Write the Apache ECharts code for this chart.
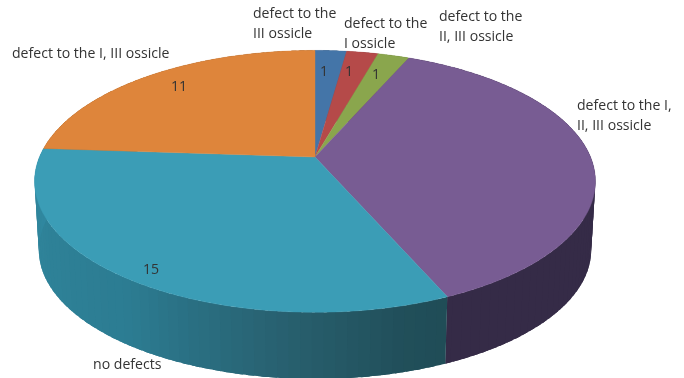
<!DOCTYPE html>
<html>
<head>
<meta charset="utf-8">
<style>html,body{margin:0;padding:0;background:#fff}#chart{width:684px;height:378px}</style>
<script src="https://cdn.jsdelivr.net/npm/echarts@6/dist/echarts.min.js"></script>
</head>
<body>
<div id="chart"></div>
<script>
// Ossicle defect counts, shown as a tilted 3D pie.
const categories = [
  'defect to the\nIII ossicle',
  'defect to the\nI ossicle',
  'defect to the\nII, III ossicle',
  'defect to the I,\nII, III ossicle',
  'no defects',
  'defect to the I, III ossicle'
];
const counts = [1, 1, 1, 17, 15, 11];
const showCount = [true, true, true, false, true, true];

const topColors = ['#4475a8', '#b54a49', '#8aa64d', '#785c93', '#3b9db6', '#de853b'];
const nameAnchors = [[253, 4], [344, 14], [439, 7], [577, 96], [93, 355], [12, 44]];
const countAnchors = [[324, 72], [349, 72], [376, 75], null, [151, 270], [179, 87]];

// Wall shade ramps by angle (degrees clockwise from the back of the disc).
const wallRamps = [
  [[0, '#2f5170']], [[0, '#7a3332']], [[0, '#5f7335']],
  [[0, '#352b47']],
  [[150, '#1e4a54'], [165, '#214f5a'], [185, '#28606f'], [215, '#2c7c92'], [250, '#2f8399'], [285, '#318aa3']],
  [[0, '#9a5c28']]
];

// Perspective projection of the unit disc.
const CX = 315, CY = 157, RX = 275.5, RY = 126.4, K = 0.186;
const WALL_SCALE = 0.985, WALL_DROP = 69;

function project(deg) {
  const t = deg * Math.PI / 180;
  const u = Math.sin(t), v = -Math.cos(t), w = 1 - K * v;
  return [CX + RX * u / w, CY + RY * v / w];
}
function projectLower(deg) {
  const p = project(deg);
  return [CX + (p[0] - CX) * WALL_SCALE, CY + WALL_DROP + (p[1] - CY) * WALL_SCALE];
}
function hex(c) {
  return [1, 3, 5].map(function (i) { return parseInt(c.substr(i, 2), 16); });
}
function rampColor(ramp, deg) {
  if (deg <= ramp[0][0] || ramp.length === 1) return ramp[0][1];
  for (let i = 1; i < ramp.length; i++) {
    if (deg <= ramp[i][0]) {
      const a = ramp[i - 1], b = ramp[i], f = (deg - a[0]) / (b[0] - a[0]);
      const ca = hex(a[1]), cb = hex(b[1]);
      return 'rgb(' + ca.map(function (x, j) { return Math.round(x + (cb[j] - x) * f); }).join(',') + ')';
    }
  }
  return ramp[ramp.length - 1][1];
}

const total = counts.reduce(function (a, b) { return a + b; }, 0);

function renderSlice(params, api) {
  const i = params.dataIndex;
  let before = 0;
  for (let j = 0; j < i; j++) before += counts[j];
  const start = before / total * 360;
  const end = (before + api.value(0)) / total * 360;
  const children = [];

  // Outer wall: narrow overlapping bands, so the shade can vary with angle without seams.
  const STEP = 2;
  for (let a = start; a < end - 1e-6; a += STEP) {
    const b = Math.min(a + STEP + 1.5, end);
    const col = rampColor(wallRamps[i], a + STEP / 2);
    const band = [];
    for (let d = a; d < b; d += 0.5) band.push(project(d));
    band.push(project(b));
    band.push(projectLower(b));
    for (let d = b - 0.5; d > a; d -= 0.5) band.push(projectLower(d));
    band.push(projectLower(a));
    children.push({
      type: 'polygon', z2: 1,
      shape: { points: band },
      style: { fill: col }
    });
  }

  // Top face.
  const pts = [[CX, CY]];
  for (let a = start; a < end; a += 1) pts.push(project(a));
  pts.push(project(end));
  children.push({
    type: 'polygon', z2: 2,
    shape: { points: pts },
    style: { fill: topColors[i], stroke: topColors[i], lineWidth: 0.4 }
  });

  const textFont = '14.1px "Open Sans", sans-serif';
  children.push({
    type: 'text', z2: 5,
    style: { x: nameAnchors[i][0], y: nameAnchors[i][1], text: categories[i], fill: '#333333', font: textFont, lineHeight: 20, textAlign: 'left', textVerticalAlign: 'top' }
  });
  if (showCount[i]) {
    children.push({
      type: 'text', z2: 5,
      style: { x: countAnchors[i][0], y: countAnchors[i][1], text: String(api.value(0)), fill: '#333333', font: textFont, textAlign: 'center', textVerticalAlign: 'middle' }
    });
  }
  return { type: 'group', children: children };
}

const chart = echarts.init(document.getElementById('chart'), null, { renderer: 'canvas' });
chart.setOption({
  animation: false,
  backgroundColor: '#ffffff',
  series: [{
    type: 'custom',
    coordinateSystem: 'none',
    renderItem: renderSlice,
    data: counts.map(function (c) { return [c]; })
  }]
});
</script>
</body>
</html>
